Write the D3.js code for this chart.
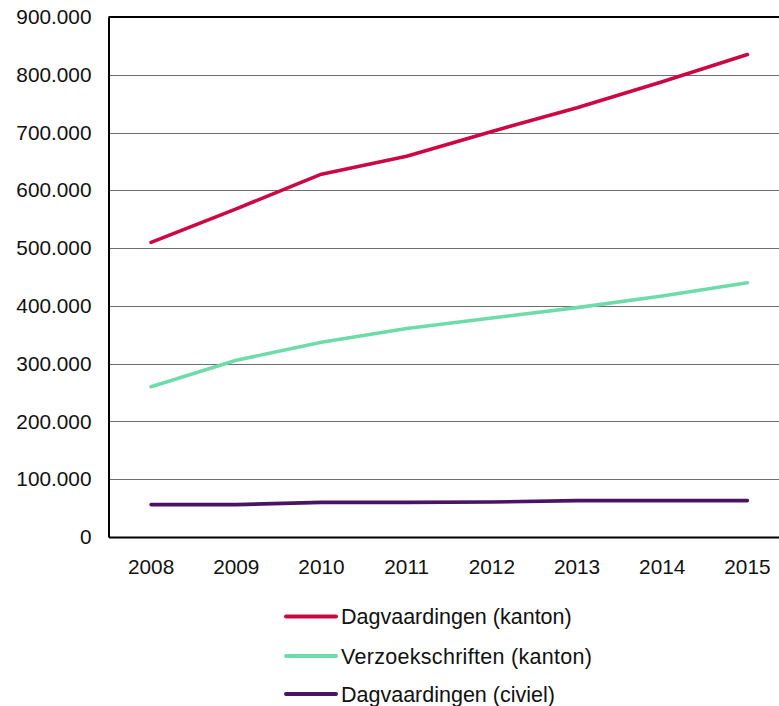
<!DOCTYPE html>
<html><head><meta charset="utf-8">
<script src="https://cdn.jsdelivr.net/npm/d3@7"></script>
<style>
html,body{margin:0;padding:0;background:#fff;overflow:hidden}
svg{display:block;font-family:"Liberation Sans",Arial,sans-serif}
</style></head>
<body>
<svg id="c" width="779" height="706"></svg>
<script>
const years = ["2008","2009","2010","2011","2012","2013","2014","2015"];
const dagvaardingenKanton = [510000, 568000, 628000, 659000, 702000, 743000, 788000, 835000];
const verzoekschriftenKanton = [260000, 306000, 337000, 361000, 379000, 397000, 417000, 440000];
const dagvaardingenCiviel = [56000, 56000, 60000, 60000, 60500, 63000, 63000, 63000];
const seriesNames = ["Dagvaardingen (kanton)", "Verzoekschriften (kanton)", "Dagvaardingen (civiel)"];
const seriesColors = ["#cc0844", "#6edcaa", "#4a1464"];
const yTicks = [0,100000,200000,300000,400000,500000,600000,700000,800000,900000];

const series = [dagvaardingenKanton, verzoekschriftenKanton, dagvaardingenCiviel];
const svg = d3.select("#c");
const L = 108.5, R = 790, T = 17, B = 537;

const x = d3.scaleBand().domain(years).range([L, R]);
const y = d3.scaleLinear().domain([0, 900000]).range([B, T]);
const fmt = v => d3.format(",")(v).replace(/,/g, ".");

// gridlines
svg.append("g").selectAll("line").data(yTicks.filter(v => v > 0 && v < 900000)).join("line")
  .attr("x1", L).attr("x2", R)
  .attr("y1", d => Math.round(y(d)) + 0.5).attr("y2", d => Math.round(y(d)) + 0.5)
  .attr("stroke", "#6e6e6e").attr("stroke-width", 1.2);

// top border
svg.append("line").attr("x1", L).attr("x2", R).attr("y1", T).attr("y2", T)
  .attr("stroke", "#000").attr("stroke-width", 2);

// y axis
const yAxis = d3.axisLeft(y).tickValues(yTicks).tickFormat(fmt).tickSize(0).tickPadding(17);
const gy = svg.append("g").attr("transform", `translate(${L},0)`).call(yAxis);
gy.select(".domain").attr("stroke", "#000").attr("stroke-width", 2);
gy.selectAll("text").attr("font-size", 20.8).attr("fill", "#111")
  .attr("font-family", "Liberation Sans, Arial, sans-serif");

// x axis
const xAxis = d3.axisBottom(x).tickSize(0).tickPadding(22);
const gx = svg.append("g").attr("transform", `translate(0,${B})`).call(xAxis);
gx.select(".domain").attr("stroke", "#000").attr("stroke-width", 2);
gx.selectAll("text").attr("font-size", 20.8).attr("fill", "#111")
  .attr("font-family", "Liberation Sans, Arial, sans-serif");

// lines
const line = d3.line().x((d, i) => x(years[i]) + x.bandwidth() / 2).y(d => y(d));
series.forEach((s, k) => {
  svg.append("path").datum(s).attr("d", line).attr("fill", "none")
    .attr("stroke", seriesColors[k]).attr("stroke-width", 3.6)
    .attr("stroke-linecap", "round").attr("stroke-linejoin", "round");
});

// legend
const ly = [616.5, 656, 694];
const lg = svg.append("g");
seriesNames.forEach((n, k) => {
  lg.append("line").attr("x1", 286).attr("x2", 336).attr("y1", ly[k]).attr("y2", ly[k])
    .attr("stroke", seriesColors[k]).attr("stroke-width", 4).attr("stroke-linecap", "round");
  lg.append("text").attr("x", 341).attr("y", ly[k]).attr("dy", "0.35em")
    .attr("font-size", 21.5).attr("fill", "#111")
    .attr("letter-spacing", k === 1 ? 0.3 : 0)
    .text(n);
});
</script>
</body></html>
